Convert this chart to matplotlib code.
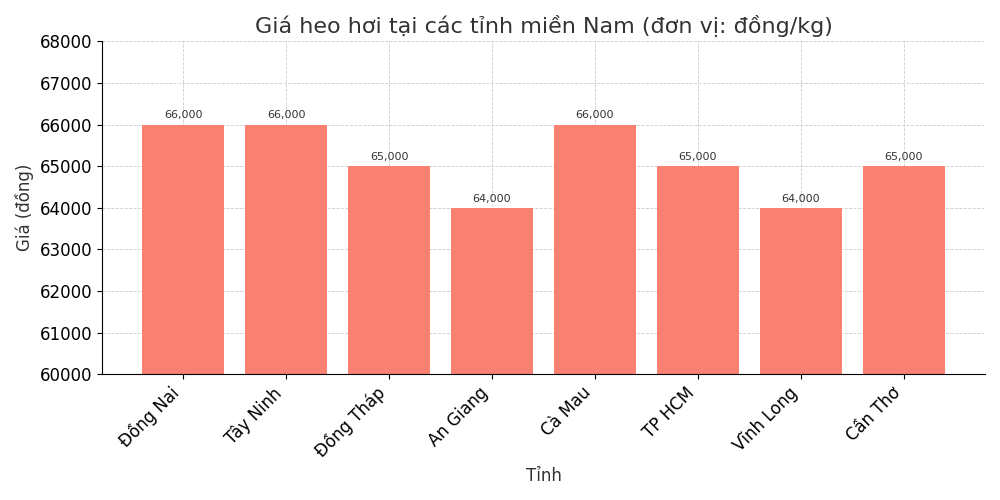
import matplotlib.pyplot as plt

provinces = ["Đồng Nai", "Tây Ninh", "Đồng Tháp", "An Giang", "Cà Mau", "TP HCM", "Vĩnh Long", "Cần Thơ"]
prices = [66000, 66000, 65000, 64000, 66000, 65000, 64000, 65000]

fig, ax = plt.subplots(figsize=(10, 5), dpi=100)
bars = ax.bar(provinces, prices, color="salmon", zorder=2)
for b, v in zip(bars, prices):
    ax.text(b.get_x() + b.get_width() / 2, v + 100, f"{v:,}", ha="center", va="bottom",
            fontsize=8, color="#333333")

ax.set_ylim(60000, 68000)
ax.set_yticks(range(60000, 68001, 1000))
ax.set_title("Giá heo hơi tại các tỉnh miền Nam (đơn vị: đồng/kg)", fontsize=16, color="#333333")
ax.set_xlabel("Tỉnh", fontsize=12, color="#333333")
ax.set_ylabel("Giá (đồng)", fontsize=12, color="#333333")
ax.tick_params(labelsize=12)
plt.setp(ax.get_xticklabels(), rotation=45, ha="right")
ax.grid(True, linestyle="--", linewidth=0.6, color="#cccccc", zorder=0)
ax.spines["top"].set_visible(False)
ax.spines["right"].set_visible(False)

plt.tight_layout()
plt.savefig("out.png")
